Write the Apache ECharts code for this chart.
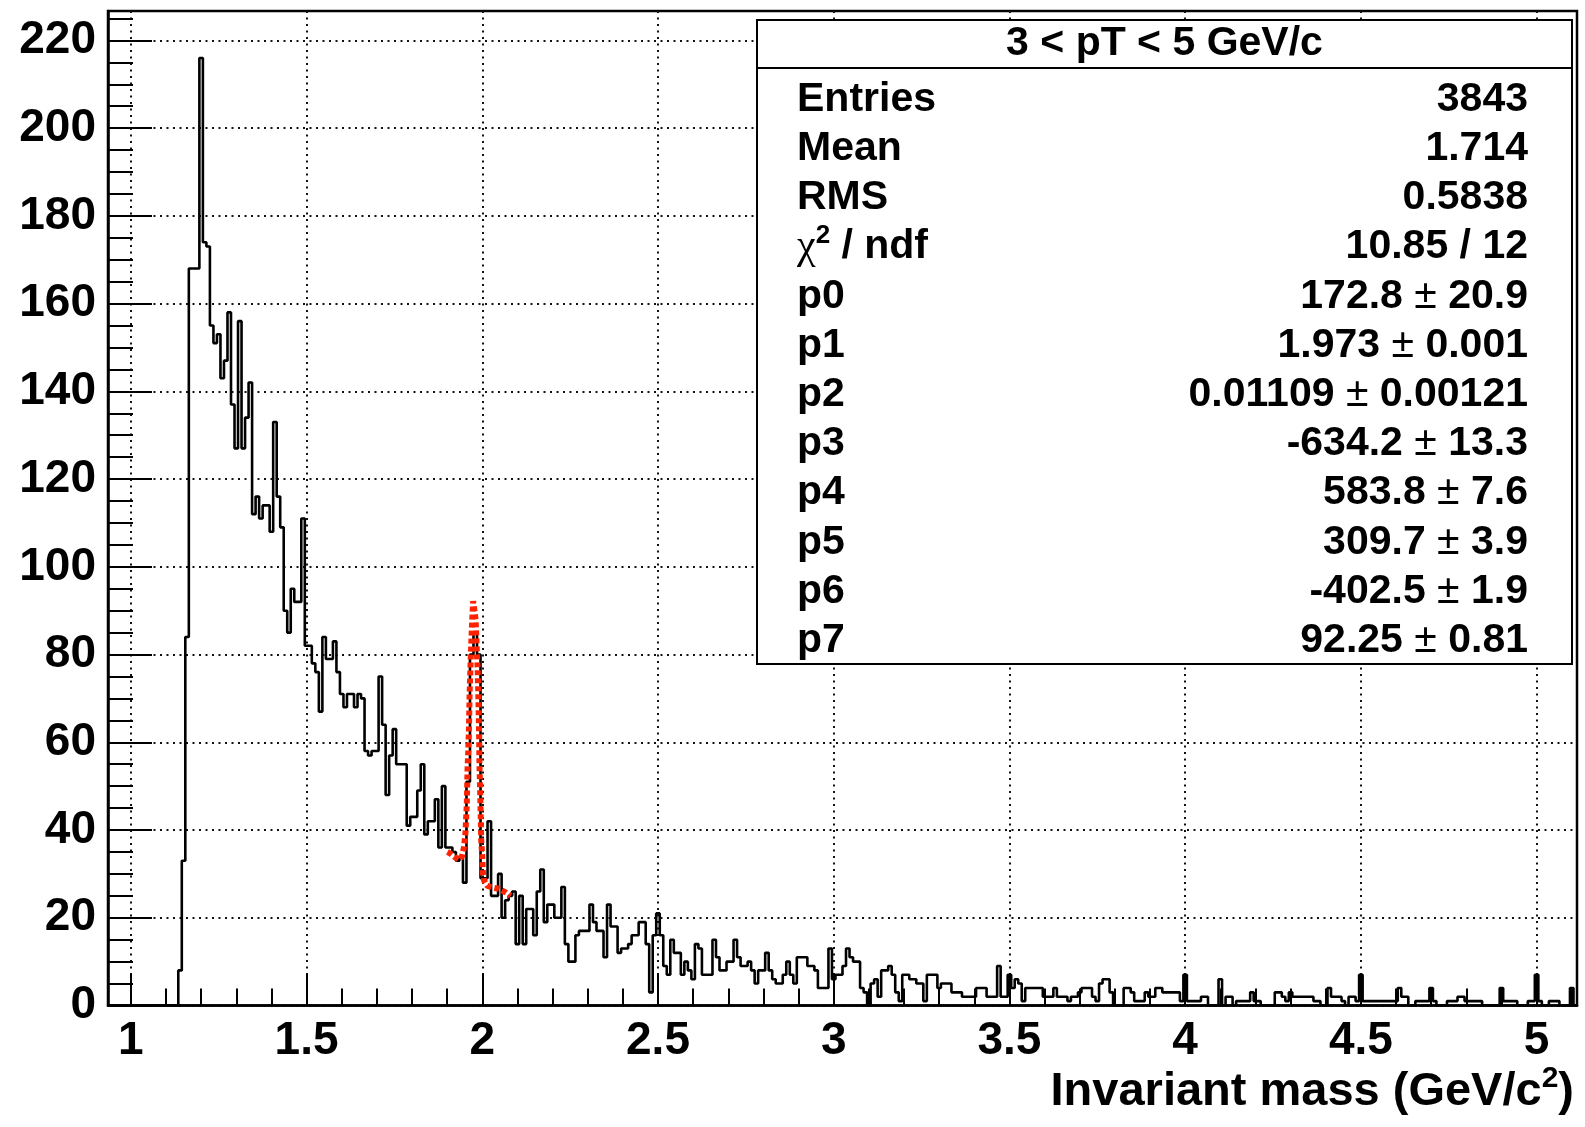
<!DOCTYPE html>
<html><head><meta charset="utf-8">
<script src="https://cdn.jsdelivr.net/npm/echarts@6/dist/echarts.min.js"></script>
<style>html,body{margin:0;padding:0;background:#fff}#c{width:1585px;height:1127px}</style>
</head><body><div id="c"></div>
<script>
// ---- histogram binning (GeV/c^2) ----
const binLow = 0.935;
const binWidth = 0.01;
// counts per bin, bin centres 0.94, 0.95, ... 5.11
const counts = [
  0,0,0,0,0,0,                                   // 0.94-0.99
  0,0,0,0,0,0,0,0,0,0,                           // 1.00-1.09
  0,0,0,0,8,33,84,168,168,168,                   // 1.10-1.19
  216,174,173,155,151,153,143,147,158,137,       // 1.20-1.29
  127,156,127,134,142,112,116,111,114,114,       // 1.30-1.39
  108,133,116,109,90,85,95,92,92,111,            // 1.40-1.49
  82,82,78,76,67,84,79,79,83,76,                 // 1.50-1.59
  71,68,71,71,68,71,70,58,57,58,                 // 1.60-1.69
  58,75,64,48,57,63,55,55,55,41,                 // 1.70-1.79
  43,43,49,55,39,42,42,47,36,50,                 // 1.80-1.89
  36,36,35,33,34,28,51,80,85,80,                 // 1.90-1.99
  29,29,42,25,25,30,20,24,25,26,                 // 2.00-2.09
  14,25,14,22,22,16,26,31,19,23,                 // 2.10-2.19
  23,20,20,27,14,10,10,16,17,17,                 // 2.20-2.29
  17,23,19,17,17,11,23,18,18,12,                 // 2.30-2.39
  13,13,14,16,16,19,19,14,3,16,                  // 2.40-2.49
  21,16,9,7,15,12,12,7,10,8,                     // 2.50-2.59
  6,14,13,7,7,7,15,11,8,8,                       // 2.60-2.69
  10,10,15,11,9,9,10,8,5,8,                      // 2.70-2.79
  8,12,8,6,5,5,7,10,7,5,                         // 2.80-2.89
  11,11,11,9,9,8,4,4,4,13,                       // 2.90-2.99
  6,7,7,9,13,11,10,10,4,3,                       // 3.00-3.09
  0,5,6,2,8,8,9,7,3,1,                           // 3.10-3.19
  7,7,6,6,5,5,1,7,7,7,                           // 3.20-3.29
  4,5,5,5,3,3,3,2,2,2,                           // 3.30-3.39
  2,4,4,4,2,2,2,9,2,2,                           // 3.40-3.49
  7,4,6,5,1,4,4,4,4,4,                           // 3.50-3.59
  2,2,2,4,2,2,2,1,2,2,                           // 3.60-3.69
  3,4,4,4,2,1,5,6,6,3,                           // 3.70-3.79
  0,0,0,4,4,3,1,1,1,3,                           // 3.80-3.89
  2,2,4,4,3,3,3,3,3,1,                           // 3.90-3.99
  7,1,1,1,1,2,2,0,0,0,                           // 4.00-4.09
  6,0,2,2,0,1,1,1,1,3,                           // 4.10-4.19
  1,1,0,0,0,0,3,3,2,1,                           // 4.20-4.29
  3,2,2,2,2,2,2,1,1,0,                           // 4.30-4.39
  0,4,2,2,2,1,0,2,2,1,                           // 4.40-4.49
  7,1,1,1,1,1,1,1,1,1,                           // 4.50-4.59
  1,4,2,2,0,0,1,1,1,1,                           // 4.60-4.69
  4,1,0,0,0,1,1,1,2,2,                           // 4.70-4.79
  1,1,1,1,1,0,0,0,0,0,                           // 4.80-4.89
  4,1,1,1,1,0,0,0,1,1,                           // 4.90-4.99
  7,1,0,0,1,1,1,0,0,0,                           // 5.00-5.09
  4,0                                            // 5.10-5.11
];

// ---- fit curve ----
const fitX = [1.901,1.908,1.922,1.936,1.943,1.948,1.952,1.954,1.956,1.957,1.958,1.960,1.962,1.964,1.967,1.969,1.971,1.974,1.979,1.981,1.983,1.985,1.987,1.989,1.991,1.992,1.994,1.996,1.997,2.000,2.002,2.005,2.014,2.028,2.047,2.066,2.081];
const fitY = [35.0,34.7,33.8,33.2,34.2,36.1,39.2,42.6,46.0,49.8,53.7,57.9,62.8,71.2,78.9,83.1,87.3,92.2,91.8,88.0,84.2,79.6,76.6,69.7,62.1,54.8,48.7,41.5,37.6,33.8,30.0,28.5,27.3,26.9,26.6,25.8,25.0];

// ---- axes ----
const xMin = 0.935, xMax = 5.115;
const yMin = 0, yMax = 226.7;
const xMajorTicks = [1,1.5,2,2.5,3,3.5,4,4.5,5];
const xMinorTicks = [1.0,1.1,1.2,1.3,1.4,1.5,1.6,1.7,1.8,1.9,2.0,2.1,2.2,2.3,2.4,2.5,2.6,2.7,2.8,2.9,3.0,3.1,3.2,3.3,3.4,3.5,3.6,3.7,3.8,3.9,4.0,4.1,4.2,4.3,4.4,4.5,4.6,4.7,4.8,4.9,5.0,5.1];
const yMajorTicks = [0,20,40,60,80,100,120,140,160,180,200,220];
const yMinorTicks = [0,5,10,15,20,25,30,35,40,45,50,55,60,65,70,75,80,85,90,95,100,105,110,115,120,125,130,135,140,145,150,155,160,165,170,175,180,185,190,195,200,205,210,215,220,225];
const xTitle = 'Invariant mass (GeV/c';

// ---- stats box ----
const statsTitle = '3 < pT < 5 GeV/c';
const statNames = ['Entries','Mean','RMS','chi2','p0','p1','p2','p3','p4','p5','p6','p7'];
const statValues = ['3843','1.714','0.5838','10.85 / 12','172.8','1.973','0.01109','-634.2','583.8','309.7','-402.5','92.25'];
const statErrors = [null,null,null,null,'20.9','0.001','0.00121','13.3','7.6','3.9','1.9','0.81'];

const FONT = '"Liberation Sans", Arial, Helvetica, sans-serif';

const histData = counts.map((c, k) => [+(binLow + k * binWidth).toFixed(3), c]);
histData.push([+(binLow + counts.length * binWidth).toFixed(3), counts[counts.length - 1]]);
const fitData = fitX.map((x, i) => [x, fitY[i]]);

const chart = echarts.init(document.getElementById('c'), null, {renderer: 'canvas', width: 1585, height: 1127});

const tickStyle = {color: '#000', width: 2};
const boxL = 757, boxR = 1572, boxT = 20, boxB = 664, sepY = 68;
const rowY0 = 99.5, rowStep = 49.2;
const leftX = 797, rightX = 1528;
const statRich = {
  b: {fontFamily: FONT, fontWeight: 'bold', fontSize: 41, fill: '#000', lineHeight: 48},
  pm: {fontFamily: FONT, fontWeight: 'normal', fontSize: 41, fill: '#000', lineHeight: 48},
  g: {fontFamily: '"Liberation Serif", "DejaVu Serif", serif', fontWeight: 'normal', fontSize: 42, fill: '#000', lineHeight: 48},
  s: {fontFamily: FONT, fontWeight: 'bold', fontSize: 26, fill: '#000', lineHeight: 28, verticalAlign: 'top'}
};
const graphics = [
  {type: 'rect', z: 100, shape: {x: boxL, y: boxT, width: boxR - boxL, height: boxB - boxT}, style: {fill: '#fff', stroke: '#000', lineWidth: 2}},
  {type: 'line', z: 101, shape: {x1: boxL, y1: sepY, x2: boxR, y2: sepY}, style: {stroke: '#000', lineWidth: 2}},
  {type: 'text', z: 102, style: {x: (boxL + boxR) / 2, y: 44, text: statsTitle, font: 'bold 41px ' + FONT, fill: '#000', textAlign: 'center', textVerticalAlign: 'middle', align: 'center', verticalAlign: 'middle'}}
];
statNames.forEach((nm, i) => {
  const y = rowY0 + i * rowStep;
  const lbl = nm === 'chi2' ? '{g|χ}{s|2}{b| / ndf}' : '{b|' + nm + '}';
  graphics.push({type: 'text', z: 102, style: {x: leftX, y: y, text: lbl, rich: statRich, textAlign: 'left', textVerticalAlign: 'middle', align: 'left', verticalAlign: 'middle'}});
  const val = statErrors[i] ? '{b|' + statValues[i] + '}{pm| ± }{b|' + statErrors[i] + '}' : '{b|' + statValues[i] + '}';
  graphics.push({type: 'text', z: 102, style: {x: rightX, y: y, text: val, rich: statRich, textAlign: 'right', textVerticalAlign: 'middle', align: 'right', verticalAlign: 'middle'}});
});
graphics.push({type: 'text', z: 102, style: {x: 1574, y: 1092, text: '{a|' + xTitle + '}{s|2}{a|)}',
  rich: {a: {fontFamily: FONT, fontWeight: 'bold', fontSize: 47, fill: '#000', lineHeight: 56},
         s: {fontFamily: FONT, fontWeight: 'bold', fontSize: 30, fill: '#000', lineHeight: 32, verticalAlign: 'top'}},
  textAlign: 'right', textVerticalAlign: 'middle', align: 'right', verticalAlign: 'middle'}});

const option = {
  animation: false,
  backgroundColor: '#fff',
  grid: {left: 108, right: 8, top: 11, bottom: 121.5, show: true, borderColor: '#000', borderWidth: 2.5, containLabel: false},
  xAxis: [
    {type: 'value', min: xMin, max: xMax, position: 'bottom', splitNumber: 8,
     axisLine: {show: true, onZero: false, lineStyle: {color: '#000', width: 2.5}},
     axisTick: {show: true, inside: true, length: 32, customValues: xMajorTicks, lineStyle: tickStyle},
     axisLabel: {show: true, customValues: xMajorTicks, margin: 13, color: '#000', fontFamily: FONT, fontWeight: 'bold', fontSize: 46, formatter: v => String(v)},
     splitLine: {show: true, lineStyle: {color: '#111', width: 2, type: [2, 4.5]}}},
    {type: 'value', min: xMin, max: xMax, position: 'bottom',
     axisLine: {show: false, onZero: false},
     axisTick: {show: true, inside: true, length: 17, customValues: xMinorTicks, lineStyle: tickStyle},
     axisLabel: {show: false}, splitLine: {show: false}}
  ],
  yAxis: [
    {type: 'value', min: yMin, max: yMax, position: 'left', splitNumber: 11,
     axisLine: {show: true, onZero: false, lineStyle: {color: '#000', width: 2.5}},
     axisTick: {show: true, inside: true, length: 44, customValues: yMajorTicks, lineStyle: tickStyle},
     axisLabel: {show: true, customValues: yMajorTicks, margin: 12, color: '#000', fontFamily: FONT, fontWeight: 'bold', fontSize: 46},
     splitLine: {show: true, lineStyle: {color: '#111', width: 2, type: [2, 4.5]}}},
    {type: 'value', min: yMin, max: yMax, position: 'left',
     axisLine: {show: false, onZero: false},
     axisTick: {show: true, inside: true, length: 25, customValues: yMinorTicks, lineStyle: tickStyle},
     axisLabel: {show: false}, splitLine: {show: false}}
  ],
  series: [
    {type: 'line', xAxisIndex: 0, yAxisIndex: 0, data: histData, step: 'end', symbol: 'none', clip: true,
     lineStyle: {color: '#000', width: 2.6}, z: 3},
    {type: 'line', xAxisIndex: 0, yAxisIndex: 0, data: fitData, symbol: 'none', clip: true,
     lineStyle: {color: '#ff2200', width: 6, type: [5, 3]}, z: 4}
  ],
  graphic: graphics
};
chart.setOption(option);
</script>
</body></html>
